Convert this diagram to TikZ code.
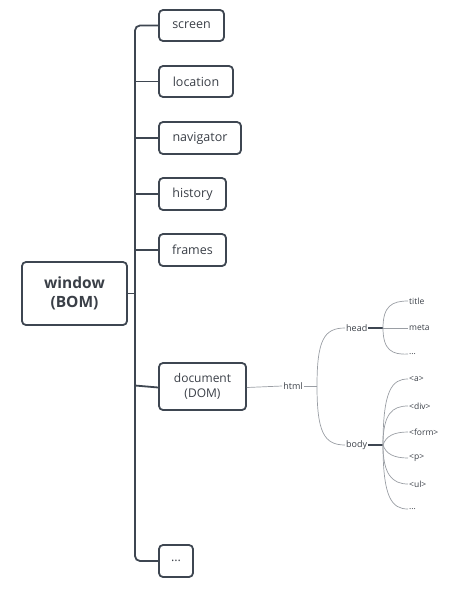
\documentclass[tikz,border=0pt]{standalone}
\usepackage{fontspec}
\setmainfont{Open Sans}
\definecolor{boxc}{HTML}{3E4651}
\definecolor{txt}{HTML}{3A3F47}
\definecolor{thin}{HTML}{9A9EA4}
\begin{document}
\begin{tikzpicture}[x=1pt,y=-1pt,
  box/.style={draw=boxc,line width=1.8pt,rounded corners=4pt,text=txt,
    font=\fontsize{12.5}{15}\selectfont,inner sep=0pt,align=center},
  small/.style={text=txt,font=\fontsize{8.5}{10}\selectfont,inner sep=1pt},
  trunk/.style={draw=boxc,line width=1.8pt,rounded corners=5pt},
  fan/.style={draw=thin,line width=0.7pt},
  stub/.style={draw=boxc,line width=1.6pt}]
\useasboundingbox (0,0) rectangle (463,594);
\node[box,minimum width=105pt,minimum height=63pt,font=\bfseries\fontsize{15.5}{19}\selectfont] (win) at (74.5,293.5) {window\\(BOM)};
\node[box,minimum width=65pt,minimum height=31pt] (screen) at (191.5,25.5) {screen};
\node[box,minimum width=74pt,minimum height=31pt] (location) at (196,81.5) {location};
\node[box,minimum width=82pt,minimum height=32pt] (navigator) at (200,138) {navigator};
\node[box,minimum width=67pt,minimum height=32pt] (history) at (192.5,194) {history};
\node[box,minimum width=67pt,minimum height=32pt] (frames) at (192.5,250) {frames};
\node[box,minimum width=87pt,minimum height=47pt,font=\fontsize{12}{15}\selectfont] (doc) at (202.5,386.5) {document\\(DOM)};
\node[box,minimum width=34pt,minimum height=32pt] (more) at (176,561) {...};
\coordinate (tj) at (135,293.5);
% trunk
\draw[trunk] (screen.west) -- (135,25.5) -- (135,561) -- (more.west);
\foreach \n in {location,navigator,history,frames}
  \draw[trunk,rounded corners=0pt] (135,0 |- \n.west) -- (\n.west);
\draw[trunk,rounded corners=0pt] (win.east) -- (tj);
\draw[trunk,rounded corners=0pt] (135,0 |- doc.west) ++(0,-1) -- ([yshift=-1pt]doc.west);
% html
\node[small,font=\fontsize{9}{11}\selectfont] (html) at (293,386) {html};
\draw[fan] ([yshift=-1pt]doc.east) -- (html.west);
\node[small,font=\fontsize{9}{11}\selectfont,anchor=west] (head) at (345,328) {head};
\node[small,font=\fontsize{9}{11}\selectfont,anchor=west] (body) at (345,445) {body};
\coordinate (hj) at (317,386);
\draw[fan] (html.east) -- (hj);
\draw[fan] (hj) .. controls (317,340) and (324,328) .. (head.west);
\draw[fan] (hj) .. controls (317,432) and (324,445) .. (body.west);
% head children
\node[small,anchor=west] (title) at (408,301) {title};
\node[small,anchor=west] (meta) at (408,328) {meta};
\node[small,anchor=west] (hd) at (408,354) {...};
\coordinate (hk) at (383,328);
\draw[stub] (head.east) -- (hk);
\draw[fan] (hk) .. controls (383,306) and (392,301) .. (title.west);
\draw[fan] (hk) -- (meta.west);
\draw[fan] (hk) .. controls (383,350) and (392,355) .. (hd.west);
% body children
\node[small,anchor=west] (a) at (408,379) {<a>};
\node[small,anchor=west] (div) at (408,406) {<div>};
\node[small,anchor=west] (form) at (408,432) {<form>};
\node[small,anchor=west] (p) at (408,458) {<p>};
\node[small,anchor=west] (ul) at (408,484) {<ul>};
\node[small,anchor=west] (bd) at (408,509) {...};
\coordinate (bk) at (383,445);
\draw[stub] (body.east) -- (bk);
\draw[fan] (bk) .. controls (383,390) and (392,379) .. (a.west);
\draw[fan] (bk) .. controls (383,414) and (392,406) .. (div.west);
\draw[fan] (bk) .. controls (386,436) and (394,432) .. (form.west);
\draw[fan] (bk) .. controls (386,454) and (394,458) .. (p.west);
\draw[fan] (bk) .. controls (383,474) and (392,484) .. (ul.west);
\draw[fan] (bk) .. controls (383,498) and (392,509) .. (bd.west);
\end{tikzpicture}
\end{document}
